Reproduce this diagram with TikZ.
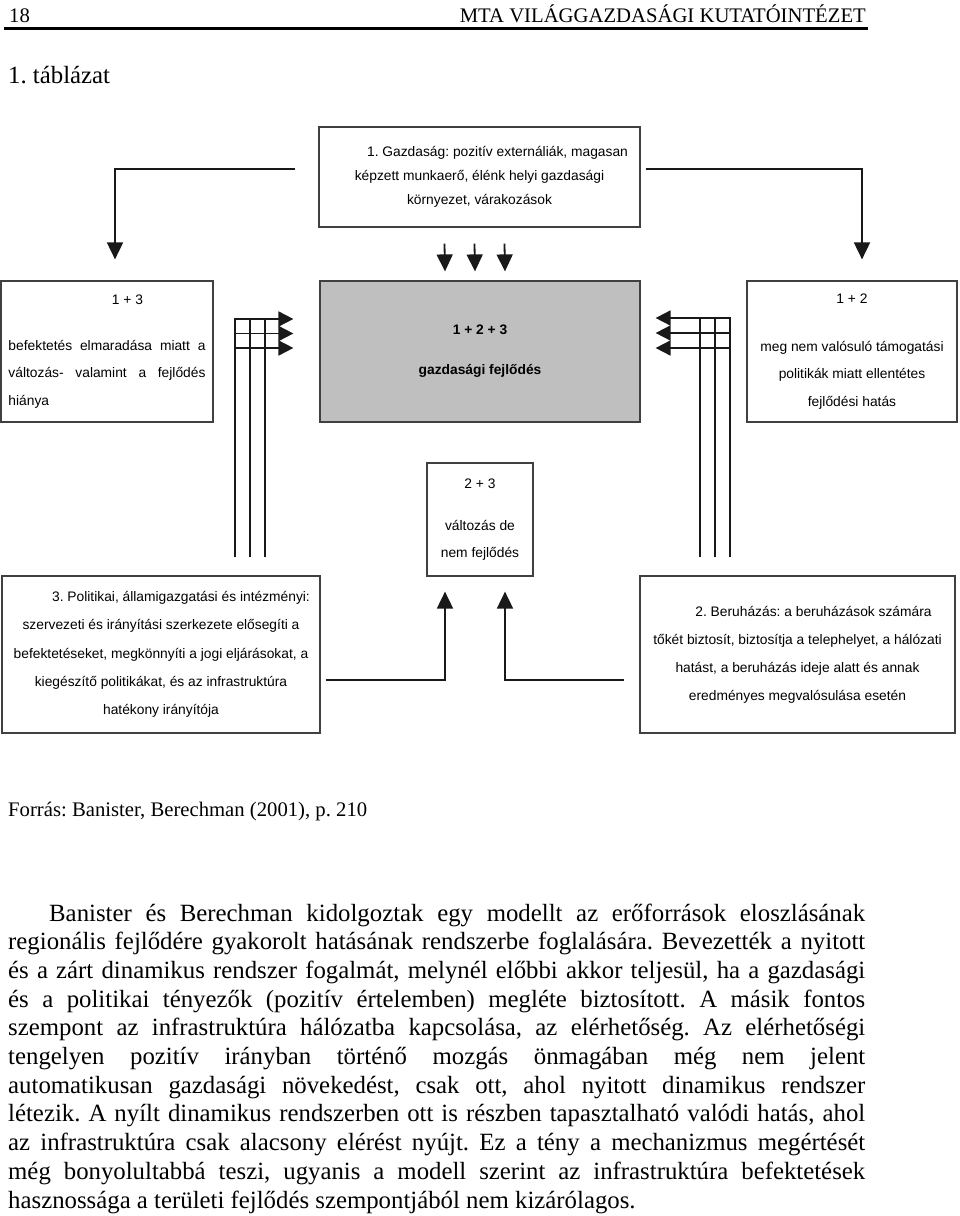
\documentclass[tikz,border=0pt]{standalone}
\usepackage{fontspec}
\setmainfont{Liberation Serif}
\newfontfamily\abrasans{Liberation Sans}
\usetikzlibrary{arrows.meta}
\newcommand{\abrafont}{\abrasans\fontsize{13.8}{27.5}\selectfont}
\newcommand{\szovegfont}{\fontsize{24.8}{28.7}\selectfont}
\newcommand{\kisbetu}{\fontsize{20.7}{24}\selectfont}
\tolerance=9999
\hyphenpenalty=10000
\exhyphenpenalty=10000
\frenchspacing

\begin{document}
\begin{tikzpicture}[x=1pt, y=-1pt,
    box/.style={draw=black!75, line width=1.2pt, inner sep=0pt, align=center, font=\abrafont},
    wire/.style={line width=1.8pt, black!90},
    arr/.style={wire, -{Triangle[length=17pt,width=16pt]}},
    tri/.style={wire, -{Triangle[length=15pt,width=15pt]}}]
    \path[use as bounding box, fill=white] (0,0) rectangle (960,1216);

    % Page header
    \node[anchor=base west, font=\kisbetu, inner sep=0pt] (oldal) at (9,22) {18};
    \node[anchor=base east, font=\kisbetu, inner sep=0pt] (intezet) at (866,22) {MTA VILÁGGAZDASÁGI KUTATÓINTÉZET};
    \draw[line width=2.2pt] (4,28.5) -- (868,28.5);
    \node[anchor=base west, font=\szovegfont, inner sep=0pt] (cim) at (8,83) {1. táblázat};

    % Top and middle row
    \node[box, minimum width=321pt, minimum height=100pt, font=\abrasans\fontsize{13.8}{24}\selectfont] (gazd) at (479.5,177)
        {\hspace*{36pt}1. Gazdaság: pozitív externáliák, magasan\\ képzett munkaerő, élénk helyi gazdasági\\ környezet, várakozások};
    \node[box, minimum width=212pt, minimum height=141pt, text width=197pt, align=justify] (befekt) at (107,351.5)
        {\makebox[\linewidth]{\hspace{41pt}1 + 3}\\[18.5pt] befektetés elmaradása miatt a\linebreak változás- valamint a fejlődés\linebreak hiánya};
    \node[box, minimum width=320pt, minimum height=141pt, fill=black!25, font=\abrafont\bfseries] (fejl) at (480,351.5)
        {1 + 2 + 3\\[12.5pt] gazdasági fejlődés};
    \node[box, minimum width=210pt, minimum height=141pt] (tamog) at (852,351.5)
        {1 + 2\\[20.5pt] meg nem valósuló támogatási\\ politikák miatt ellentétes\\ fejlődési hatás};
    \node[box, minimum width=106pt, minimum height=113pt] (valt) at (480,519.5)
        {2 + 3\\[14.5pt] változás de\\ nem fejlődés};

    % Bottom row
    \node[box, minimum width=318pt, minimum height=157pt, font=\abrasans\fontsize{13.8}{28.3}\selectfont] (pol) at (161,654.5)
        {\hspace*{40pt}3. Politikai, államigazgatási és intézményi:\\ szervezeti és irányítási szerkezete elősegíti a\\ befektetéseket, megkönnyíti a jogi eljárásokat, a\\ kiegészítő politikákat, és az infrastruktúra\\ hatékony irányítója};
    \node[box, minimum width=315pt, minimum height=157pt, font=\abrasans\fontsize{13.8}{28}\selectfont] (ber) at (797.5,654.5)
        {\hspace*{32pt}2. Beruházás: a beruházások számára\\ tőkét biztosít, biztosítja a telephelyet, a hálózati\\ hatást, a beruházás ideje alatt és annak\\ eredményes megvalósulása esetén};

    % Economy arrows
    \draw[arr] ([xshift=-23pt,yshift=8pt]gazd.west) -| ([xshift=8pt,yshift=21pt]befekt.north);
    \draw[arr] ([xshift=5pt,yshift=8pt]gazd.east) -| ([xshift=10pt,yshift=21pt]tamog.north);
    \draw[arr] ([xshift=-35pt,yshift=-16pt]gazd.south) -- ([xshift=-35pt,yshift=9pt]fejl.north);
    \draw[arr] ([xshift=-5pt,yshift=-16pt]gazd.south) -- ([xshift=-5pt,yshift=9pt]fejl.north);
    \draw[arr] ([xshift=25pt,yshift=-16pt]gazd.south) -- ([xshift=25pt,yshift=9pt]fejl.north);

    % Left grid
    \coordinate (bal) at (235,319);
    \draw[wire] ([xshift=74pt,yshift=18pt]pol.north) -- ++(0,-239);
    \draw[wire] ([xshift=89pt,yshift=18pt]pol.north) -- ++(0,-239);
    \draw[wire] ([xshift=104pt,yshift=18pt]pol.north) -- ++(0,-239);
    \draw[tri] (bal) -- ([xshift=-26pt,yshift=32.5pt]fejl.west);
    \draw[tri] ([yshift=-14.5pt]bal) -- ([xshift=-26pt,yshift=18pt]fejl.west);
    \draw[tri] ([yshift=-29pt]bal) -- ([xshift=-26pt,yshift=3.5pt]fejl.west);

    % Right grid
    \coordinate (jobb) at (730,318);
    \draw[wire] ([xshift=-97.5pt,yshift=18pt]ber.north) -- ++(0,-240);
    \draw[wire] ([xshift=-82.5pt,yshift=18pt]ber.north) -- ++(0,-240);
    \draw[wire] ([xshift=-67.5pt,yshift=18pt]ber.north) -- ++(0,-240);
    \draw[tri] (jobb) -- ([xshift=15pt,yshift=33.5pt]fejl.east);
    \draw[tri] ([yshift=-15pt]jobb) -- ([xshift=15pt,yshift=18.5pt]fejl.east);
    \draw[tri] ([yshift=-30pt]jobb) -- ([xshift=15pt,yshift=3.5pt]fejl.east);

    % Bottom arrows
    \draw[arr] ([xshift=5pt,yshift=-25.5pt]pol.east) -| ([xshift=-35pt,yshift=-15pt]valt.south);
    \draw[arr] ([xshift=-15pt,yshift=-25.5pt]ber.west) -| ([xshift=25pt,yshift=-15pt]valt.south);

    % Source and body text
    \node[anchor=base west, font=\kisbetu, inner sep=0pt] (forras) at (8,816) {Forrás: Banister, Berechman (2001), p. 210};
    \node[anchor=base west, text width=857pt, align=justify, font=\szovegfont, inner sep=0pt] (szoveg) at (8,921)
        {\hspace*{41pt}Banister és Berechman kidolgoztak egy modellt az erőforrások eloszlásának\linebreak
        regionális fejlődére gyakorolt hatásának rendszerbe foglalására. Bevezették a nyitott\linebreak
        és a zárt dinamikus rendszer fogalmát, melynél előbbi akkor teljesül, ha a gazdasági\linebreak
        és a politikai tényezők (pozitív értelemben) megléte biztosított. A másik fontos\linebreak
        szempont az infrastruktúra hálózatba kapcsolása, az elérhetőség. Az elérhetőségi\linebreak
        tengelyen pozitív irányban történő mozgás önmagában még nem jelent\linebreak
        automatikusan gazdasági növekedést, csak ott, ahol nyitott dinamikus rendszer\linebreak
        létezik. A nyílt dinamikus rendszerben ott is részben tapasztalható valódi hatás, ahol\linebreak
        az infrastruktúra csak alacsony elérést nyújt. Ez a tény a mechanizmus megértését\linebreak
        még bonyolultabbá teszi, ugyanis a modell szerint az infrastruktúra befektetések\linebreak
        hasznossága a területi fejlődés szempontjából nem kizárólagos.};
\end{tikzpicture}
\end{document}
